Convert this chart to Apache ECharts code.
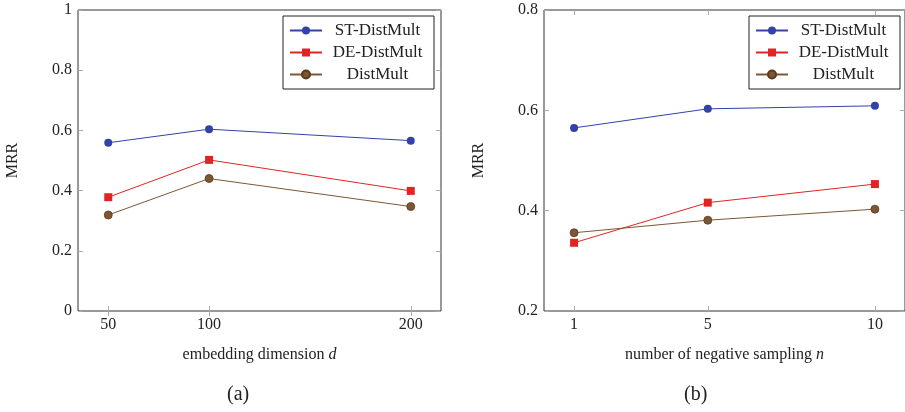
<!DOCTYPE html>
<html><head><meta charset="utf-8">
<script src="https://cdn.jsdelivr.net/npm/echarts@6/dist/echarts.min.js"></script>
<style>html,body{margin:0;padding:0;background:#fff}#c{width:905px;height:412px}</style>
</head><body><div id="c"></div>
<script>
const seriesNames = ['ST-DistMult', 'DE-DistMult', 'DistMult'];
// (a) embedding dimension
const dimA = [50, 100, 200];
const stA = [0.559, 0.604, 0.566];
const deA = [0.378, 0.502, 0.399];
const dmA = [0.319, 0.440, 0.347];
const yTicksA = [0, 0.2, 0.4, 0.6, 0.8, 1];
// (b) negative sampling
const negB = [1, 5, 10];
const stB = [0.565, 0.603, 0.609];
const deB = [0.336, 0.416, 0.453];
const dmB = [0.356, 0.381, 0.403];
const yTicksB = [0.2, 0.4, 0.6, 0.8];

const FONT = '"Liberation Serif", serif';
const colors = ['#3242a8', '#e02424', '#7d5633'];
const symbols = ['circle', 'rect', 'circle'];
const txt = {fontFamily: FONT, fontSize: 16, color: '#222'};

const chart = echarts.init(document.getElementById('c'));
const pair = (xs, ys) => xs.map((x, i) => [x, ys[i]]);

function grids() {
  return [
    {left: 78, top: 10, width: 363, height: 301, show: true, borderColor: '#333', borderWidth: 1},
    {left: 544, top: 10, width: 363, height: 301, show: true, borderColor: '#333', borderWidth: 1}
  ];
}
function xAx(gi, min, max, ticks, nameRich) {
  return [{
    gridIndex: gi, type: 'value', min: min, max: max, position: 'bottom',
    axisLine: {show: false}, splitLine: {show: false},
    axisTick: {show: true, inside: true, length: 5, customValues: ticks, lineStyle: {color: '#aaa'}},
    axisLabel: {customValues: ticks, margin: 6, ...txt},
    name: nameRich, nameLocation: 'middle', nameGap: 36,
    nameTextStyle: {...txt, rich: {i: {fontFamily: FONT, fontSize: 16, fontStyle: 'italic', color: '#222'}}}
  }, {
    gridIndex: gi, type: 'value', min: min, max: max, position: 'top',
    axisLine: {show: false}, splitLine: {show: false},
    axisTick: {show: true, inside: true, length: 5, customValues: ticks, lineStyle: {color: '#aaa'}},
    axisLabel: {show: false}
  }];
}
function yAx(gi, ticks) {
  const mn = ticks[0], mx = ticks[ticks.length - 1];
  return [{
    gridIndex: gi, type: 'value', min: mn, max: mx, interval: 0.2, position: 'left',
    axisLine: {show: false}, splitLine: {show: false},
    axisTick: {show: true, inside: true, length: 5, customValues: ticks, lineStyle: {color: '#aaa'}},
    axisLabel: {customValues: ticks, margin: 6, ...txt, formatter: v => String(+v.toFixed(2))},
    name: 'MRR', nameLocation: 'middle', nameRotate: 90,
    nameGap: 57, nameTextStyle: {...txt}
  }, {
    gridIndex: gi, type: 'value', min: mn, max: mx, interval: 0.2, position: 'right',
    axisLine: {show: false}, splitLine: {show: false},
    axisTick: {show: true, inside: true, length: 5, customValues: ticks, lineStyle: {color: '#aaa'}},
    axisLabel: {show: false}
  }];
}
function mk(name, idx, xs, ys, axIdx) {
  return {
    name: name, type: 'line', xAxisIndex: axIdx, yAxisIndex: axIdx,
    data: pair(xs, ys), symbol: symbols[idx], symbolSize: 8,
    showSymbol: true, animation: false,
    lineStyle: {width: 1, color: colors[idx]},
    itemStyle: {color: colors[idx], borderColor: idx === 2 ? '#5a3a1e' : colors[idx], borderWidth: idx === 2 ? 0.8 : 0, opacity: 1}
  };
}
function legend(left) {
  return {
    left: left, top: 16, orient: 'vertical', data: seriesNames,
    backgroundColor: '#fff', borderColor: '#222', borderWidth: 1,
    padding: [6, 6, 6, 6], itemGap: 5, itemWidth: 32, itemHeight: 10,
    formatter: n => '{c|' + n + '}',
    textStyle: {...txt, rich: {c: {fontFamily: FONT, fontSize: 17, lineHeight: 17, color: '#222', width: 101, align: 'center'}}}
  };
}

chart.setOption({
  animation: false,
  grid: grids(),
  xAxis: [...xAx(0, 35, 215, dimA, 'embedding dimension {i|d}'), ...xAx(1, 0.1, 10.9, negB, 'number of negative sampling {i|n}')],
  yAxis: [...yAx(0, yTicksA), ...yAx(1, yTicksB)],
  legend: [legend(283), legend(749)],
  series: [
    mk(seriesNames[0], 0, dimA, stA, 0),
    mk(seriesNames[1], 1, dimA, deA, 0),
    mk(seriesNames[2], 2, dimA, dmA, 0),
    mk(seriesNames[0], 0, negB, stB, 2),
    mk(seriesNames[1], 1, negB, deB, 2),
    mk(seriesNames[2], 2, negB, dmB, 2)
  ],
  graphic: [
    {type: 'text', left: 227, top: 385, style: {text: '(a)', fontFamily: FONT, fontSize: 20, fill: '#222'}},
    {type: 'text', left: 684, top: 385, style: {text: '(b)', fontFamily: FONT, fontSize: 20, fill: '#222'}}
  ]
});
</script></body></html>
